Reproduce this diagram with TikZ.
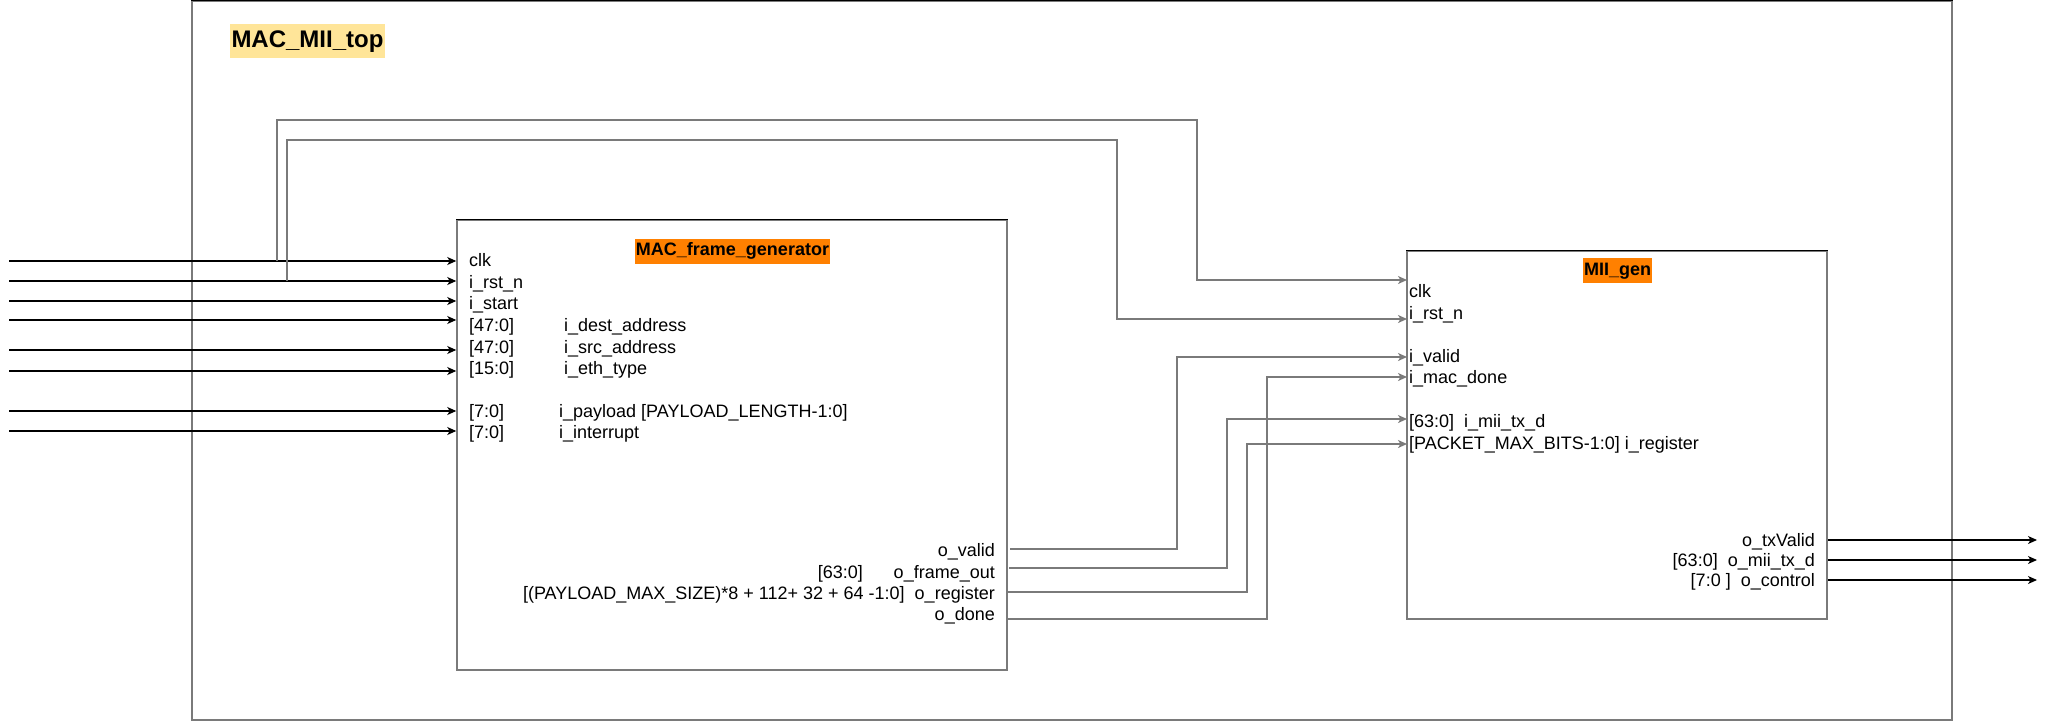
\documentclass[tikz,border=0pt]{standalone}
\usepackage{fontspec}
\setmainfont{Liberation Sans}
\usetikzlibrary{arrows.meta}
\definecolor{wire}{HTML}{7A7A7A}
\definecolor{topfill}{HTML}{FFE599}
\definecolor{modfill}{HTML}{FF8000}
\tikzstyle{module}=[draw=wire, line width=1.5pt, rectangle, inner sep=0pt]
\tikzstyle{port}=[inner sep=0pt, text height=13pt, text depth=0.5pt,
    font=\fontsize{18}{21}\selectfont]
\tikzstyle{title}=[fill=modfill, inner xsep=1pt, inner ysep=4pt,
    text height=13pt, text depth=4pt, font=\fontsize{18}{21}\selectfont\bfseries]
\tikzstyle{toptitle}=[fill=topfill, inner xsep=1.5pt, inner ysep=5.5pt,
    text height=18pt, text depth=5pt, font=\fontsize{24}{28}\selectfont\bfseries]
\tikzstyle{sig}=[line width=1.1pt, -{Stealth[length=9pt,width=8pt,inset=2.5pt]}]
\tikzstyle{bus}=[sig, draw=wire, line width=1.5pt]

\begin{document}
\begin{tikzpicture}[x=1pt,y=-1pt]
  \useasboundingbox (0,0) rectangle (2046,721);
  % boxes
  \node[module, minimum width=1760pt, minimum height=719pt] at (1072,360.5) (top) {};
  \draw[line width=1.5pt] (top.north west) -- (top.north east);
  \node[toptitle] at (307.5,41) (toplabel) {MAC\_MII\_top};

  \node[module, minimum width=550pt, minimum height=450pt] at (732,445) (mac) {};
  \draw[line width=1.5pt] (mac.north west) -- (mac.north east);
  \node[title] at (732.5,251) (maclabel) {MAC\_frame\_generator};

  \node[module, minimum width=420pt, minimum height=368pt] at (1617,435) (mii) {};
  \draw[line width=1.5pt] (mii.north west) -- (mii.north east);
  \node[title] at (1617.5,270.5) (miilabel) {MII\_gen};

  % MAC_frame_generator ports
  \node[port, anchor=west] at (469,260) (m-clk) {clk};
  \node[port, anchor=west] at (469,282) (m-rst) {i\_rst\_n};
  \node[port, anchor=west] at (469,303) (m-start) {i\_start};
  \node[port, anchor=west] at (469,325) (m-destw) {[47:0]};
  \node[port, anchor=west] at (564,325) (m-dest) {i\_dest\_address};
  \node[port, anchor=west] at (469,347) (m-srcw) {[47:0]};
  \node[port, anchor=west] at (564,347) (m-src) {i\_src\_address};
  \node[port, anchor=west] at (469,368) (m-ethw) {[15:0]};
  \node[port, anchor=west] at (564,368) (m-eth) {i\_eth\_type};
  \node[port, anchor=west] at (469,411) (m-payw) {[7:0]};
  \node[port, anchor=west] at (559,411) (m-pay) {i\_payload [PAYLOAD\_LENGTH-1:0]};
  \node[port, anchor=west] at (469,432) (m-intw) {[7:0]};
  \node[port, anchor=west] at (559,432) (m-int) {i\_interrupt};

  \node[port, anchor=east] at (995,550) (m-valid) {o\_valid};
  \node[port, anchor=east] at (863,572) (m-framew) {[63:0]};
  \node[port, anchor=east] at (995,572) (m-frame) {o\_frame\_out};
  \node[port, anchor=east] at (995,593) (m-reg) {[(PAYLOAD\_MAX\_SIZE)*8 + 112+ 32 + 64 -1:0]\ \ o\_register};
  \node[port, anchor=east] at (995,614) (m-done) {o\_done};

  % MII_gen ports
  \node[port, anchor=west] at (1409,291) (g-clk) {clk};
  \node[port, anchor=west] at (1409,313) (g-rst) {i\_rst\_n};
  \node[port, anchor=west] at (1409,356) (g-valid) {i\_valid};
  \node[port, anchor=west] at (1409,377) (g-done) {i\_mac\_done};
  \node[port, anchor=west] at (1409,421) (g-txd) {[63:0]\ \ i\_mii\_tx\_d};
  \node[port, anchor=west] at (1409,443) (g-reg) {[PACKET\_MAX\_BITS-1:0] i\_register};
  \node[port, anchor=east] at (1815,540) (g-txvalid) {o\_txValid};
  \node[port, anchor=east] at (1815,560) (g-otxd) {[63:0]\ \ o\_mii\_tx\_d};
  \node[port, anchor=east] at (1815,580) (g-ctrl) {[7:0 ]\ \ o\_control};

  % wire ends
  \coordinate (in-clk) at (9,261);
  \coordinate (in-rst) at (9,281);
  \coordinate (in-start) at (9,301);
  \coordinate (in-dest) at (9,320);
  \coordinate (in-src) at (9,350);
  \coordinate (in-eth) at (9,371);
  \coordinate (in-pay) at (9,411);
  \coordinate (in-int) at (9,431);
  \coordinate (clktap) at (277,261);
  \coordinate (rsttap) at (287,281);
  \coordinate (clkturn) at (1197,120);
  \coordinate (rstturn) at (1117,140);
  \coordinate (mii-clk) at (1407,280);
  \coordinate (mii-rst) at (1407,319);
  \coordinate (mii-valid) at (1407,357);
  \coordinate (mii-done) at (1407,377);
  \coordinate (mii-txd) at (1407,419);
  \coordinate (mii-reg) at (1407,444);
  \coordinate (mac-valid) at (1010,549);
  \coordinate (mac-frame) at (1009,568);
  \coordinate (mac-reg) at (1007,592);
  \coordinate (mac-done) at (1007,619);
  \coordinate (validturn) at (1177,357);
  \coordinate (frameturn) at (1227,419);
  \coordinate (regturn) at (1247,444);
  \coordinate (doneturn) at (1267,377);
  \coordinate (out-txvalid) at (2037,540);
  \coordinate (out-txd) at (2037,560);
  \coordinate (out-ctrl) at (2037,580);

  % inputs of MAC_frame_generator
  \draw[sig] (in-clk) -- (in-clk -| mac.west);
  \draw[sig] (in-rst) -- (in-rst -| mac.west);
  \draw[sig] (in-start) -- (in-start -| mac.west);
  \draw[sig] (in-dest) -- (in-dest -| mac.west);
  \draw[sig] (in-src) -- (in-src -| mac.west);
  \draw[sig] (in-eth) -- (in-eth -| mac.west);
  \draw[sig] (in-pay) -- (in-pay -| mac.west);
  \draw[sig] (in-int) -- (in-int -| mac.west);

  % clk and reset to MII_gen
  \draw[bus] (clktap) |- (clkturn) |- (mii-clk);
  \draw[bus] (rsttap) |- (rstturn) |- (mii-rst);

  % MAC_frame_generator to MII_gen
  \draw[bus] (mac-valid) -| (validturn) -- (mii-valid);
  \draw[bus] (mac-frame) -| (frameturn) -- (mii-txd);
  \draw[bus] (mac-reg) -| (regturn) -- (mii-reg);
  \draw[bus] (mac-done) -| (doneturn) -- (mii-done);

  % outputs of MII_gen
  \draw[sig] (out-txvalid -| mii.east) -- (out-txvalid);
  \draw[sig] (out-txd -| mii.east) -- (out-txd);
  \draw[sig] (out-ctrl -| mii.east) -- (out-ctrl);
\end{tikzpicture}
\end{document}
